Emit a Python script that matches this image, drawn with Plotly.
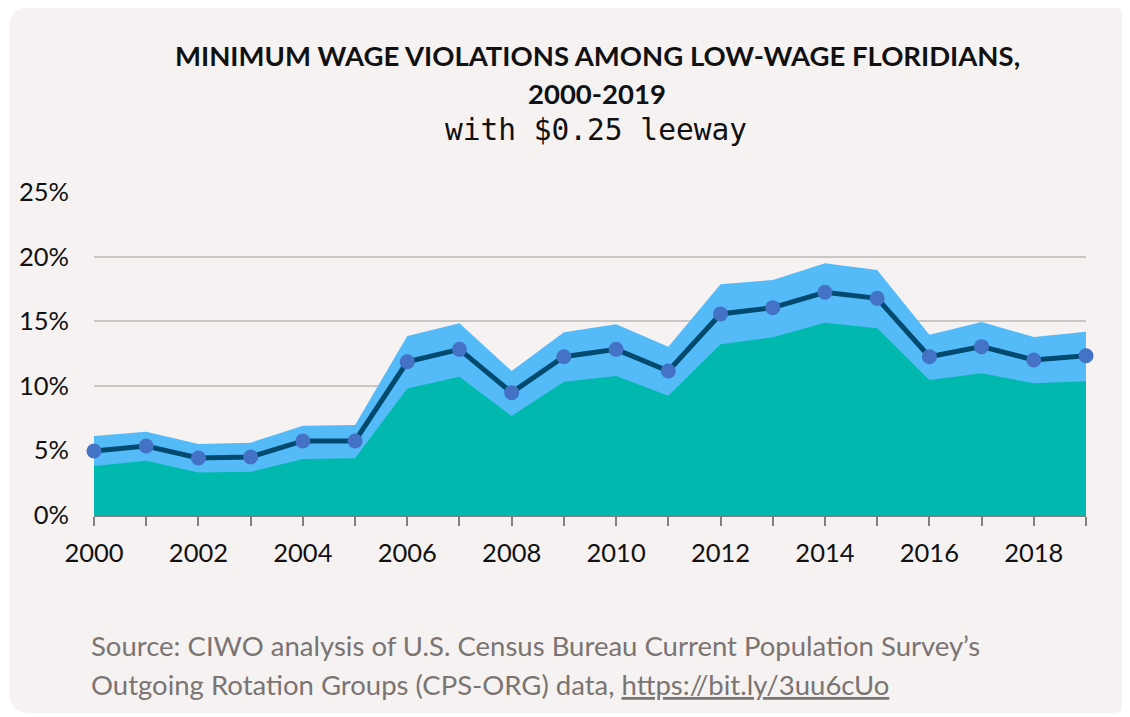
import plotly.graph_objects as go

years = list(range(2000, 2020))
central = [4.95, 5.34, 4.41, 4.49, 5.73, 5.73, 11.86, 12.82, 9.47, 12.25,
           12.82, 11.15, 15.56, 16.05, 17.24, 16.77, 12.25, 13.03, 12.00, 12.33]
upper = [6.11, 6.45, 5.50, 5.60, 6.91, 6.97, 13.85, 14.84, 11.15, 14.14,
         14.76, 13.03, 17.86, 18.19, 19.48, 18.96, 13.96, 14.94, 13.78, 14.19]
lower = [3.79, 4.20, 3.28, 3.35, 4.33, 4.39, 9.80, 10.70, 7.66, 10.32,
         10.76, 9.23, 13.21, 13.75, 14.88, 14.45, 10.45, 10.97, 10.19, 10.35]
y_ticks = [0, 5, 10, 15, 20, 25]
y_labels = [f"{v}%" for v in y_ticks]
x_labels = [str(y) if y % 2 == 0 else "" for y in years]

title_l1 = "MINIMUM WAGE VIOLATIONS AMONG LOW-WAGE FLORIDIANS,"
title_l2 = "2000-2019"
subtitle = "with $0.25 leeway"
source_l1 = "Source: CIWO analysis of U.S. Census Bureau Current Population Survey’s"
source_l2 = "Outgoing Rotation Groups (CPS-ORG) data, <u>https://bit.ly/3uu6cUo</u>"

# page offset (browser body margin)
OX, OY = 8, 8
W, H = 1130 - OX, 717 - OY
# plot area in page pixels
PX0, PX1, PY0, PY1 = 94, 1086, 192, 515
L, R, T, B = PX0 - OX, W - (PX1 - OX), PY0 - OY, H - (PY1 - OY)
PW, PH = PX1 - PX0, PY1 - PY0

def fx(px):
    return (px - PX0) / PW

def fy(py):
    return (PY1 - py) / PH

FONT = "Lato"

fig = go.Figure()
fig.add_trace(go.Scatter(x=years, y=upper, mode="lines", line=dict(width=0, color="#55bbf8"),
                         fill="tozeroy", fillcolor="#55bbf8", hoverinfo="skip", showlegend=False))
fig.add_trace(go.Scatter(x=years, y=lower, mode="lines", line=dict(width=0, color="#00b8ad"),
                         fill="tozeroy", fillcolor="#00b8ad", hoverinfo="skip", showlegend=False))
fig.add_trace(go.Scatter(x=years, y=central, mode="lines+markers",
                         line=dict(width=5, color="#004a70"),
                         marker=dict(size=15, color="#4472c4"),
                         cliponaxis=False, showlegend=False))

# rounded card background (page pixel coords)
x0, x1, y0, y1, r = 9, 1131, 7, 713, 22
path = (f"M {fx(x0+r)},{fy(y0)} L {fx(x1-r)},{fy(y0)} "
        f"Q {fx(x1)},{fy(y0)} {fx(x1)},{fy(y0+r)} L {fx(x1)},{fy(y1-r)} "
        f"Q {fx(x1)},{fy(y1)} {fx(x1-r)},{fy(y1)} L {fx(x0+r)},{fy(y1)} "
        f"Q {fx(x0)},{fy(y1)} {fx(x0)},{fy(y1-r)} L {fx(x0)},{fy(y0+r)} "
        f"Q {fx(x0)},{fy(y0)} {fx(x0+r)},{fy(y0)} Z")
fig.add_shape(type="path", path=path, xref="paper", yref="paper",
              fillcolor="#f6f2f1", line=dict(width=0), layer="below")

anns = [
    dict(text=f"<b>{title_l1}</b>", x=fx(597), y=fy(55), font=dict(size=27.5, color="#111111", family=FONT)),
    dict(text=f"<b>{title_l2}</b>", x=fx(597), y=fy(93), font=dict(size=27.5, color="#111111", family=FONT)),
    dict(text=subtitle, x=fx(596), y=fy(130), font=dict(size=29.5, color="#111111", family="DejaVu Sans Mono")),
]
for a in anns:
    fig.add_annotation(xref="paper", yref="paper", xanchor="center", yanchor="middle",
                       showarrow=False, **a)
for txt, py in [(source_l1, 645), (source_l2, 684)]:
    fig.add_annotation(text=txt, xref="paper", yref="paper", x=fx(89), y=fy(py),
                       xanchor="left", yanchor="middle", showarrow=False, align="left",
                       font=dict(size=27.5, color="#7a7473", family=FONT))

fig.update_layout(
    width=W, height=H,
    margin=dict(l=L, r=R, t=T, b=B, autoexpand=False),
    paper_bgcolor="white", plot_bgcolor="rgba(0,0,0,0)",
    font=dict(family=FONT, size=25, color="#111111"),
    xaxis=dict(range=[2000, 2019], tickvals=years, ticktext=x_labels,
               showgrid=False, showline=True, linecolor="#808080", linewidth=2,
               ticks="outside", ticklen=9, tickwidth=2, tickcolor="#808080",
               ticklabelstandoff=5,
               tickfont=dict(size=25.5, color="#111111", family=FONT), zeroline=False),
    yaxis=dict(range=[0, 25], tickvals=y_ticks, ticktext=y_labels,
               showgrid=True, gridcolor="#c9c6c4", gridwidth=2, zeroline=False,
               showline=False, ticks="", ticklabelstandoff=24,
               tickfont=dict(size=25.5, color="#111111", family=FONT)),
)

fig.write_html("out.html")
